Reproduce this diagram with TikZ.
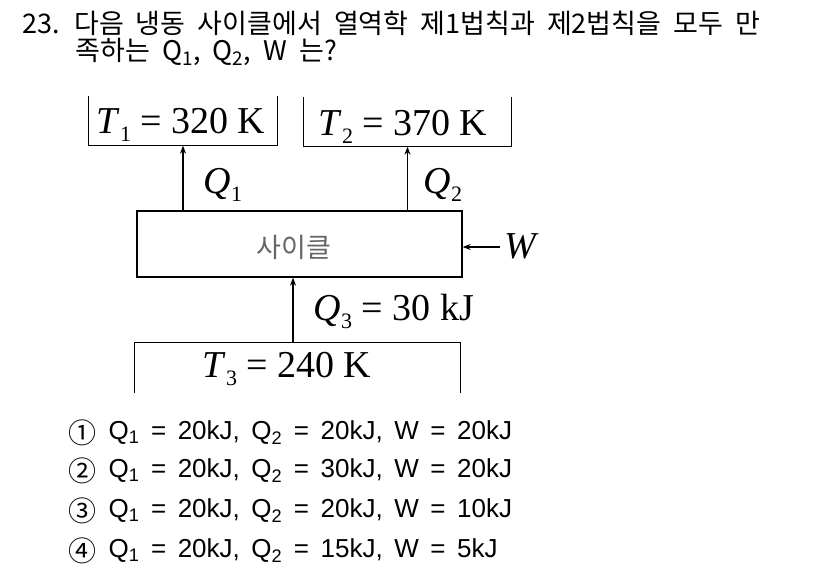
\documentclass[tikz,border=0pt]{standalone}
\usepackage{fontspec}
\setmainfont{Liberation Serif}
\newfontfamily\cjk[WordSpace=2]{Noto Sans CJK KR}
\newfontfamily\optfont[WordSpace=1.6]{Liberation Sans}
\usetikzlibrary{arrows.meta}
\newcommand\lsub[1]{\raisebox{-8pt}{\fontsize{22}{22}\selectfont #1}}
\tikzset{
  bath/.style={minimum height=48pt},
  flow/.style={-{Stealth[length=8pt,width=6pt]}},
  lbl/.style={anchor=base west,font=\fontsize{38}{44}\selectfont}
}
\begin{document}
\begin{tikzpicture}[x=1pt,y=-1pt,line width=1.3pt,every node/.style={inner sep=0pt}]
\useasboundingbox (0,0) rectangle (826,571);
% question
\node[anchor=west,font=\cjk\fontsize{27}{30}\selectfont] (ques1) at (22,23) {23. 다음 냉동 사이클에서 열역학 제1법칙과 제2법칙을 모두 만};
\node[anchor=west,font=\cjk\fontsize{27}{30}\selectfont] (ques2) at (75,52) {족하는 Q\textsubscript{1}, Q\textsubscript{2}, W 는?};
% reservoirs and cycle
\node[bath,minimum width=188pt] (hot1) at (183,121) {};
\node[bath,minimum width=207pt] (hot2) at (407.5,122) {};
\node[bath,minimum width=325pt,minimum height=49pt] (cold) at (297.5,367.5) {};
\node[draw,minimum width=325pt,minimum height=66pt] (cycle) at (299.5,244) {};
\draw (hot1.north west) -- (hot1.south west) -- (hot1.south east) -- (hot1.north east);
\draw (hot2.north west) -- (hot2.south west) -- (hot2.south east) -- (hot2.north east);
\draw (cold.south west) -- (cold.north west) -- (cold.north east) -- (cold.south east);
\node[lbl] (t1) at (96,133) {\textit{T}\lsub{1} = 320 K};
\node[lbl] (t2) at (318,135) {\textit{T}\lsub{2} = 370 K};
\node[lbl] (t3) at (202,377) {\textit{T}\lsub{3} = 240 K};
\node[font=\cjk\fontsize{27}{30}\selectfont,text=black!60] (cyctxt) at (294,247) {사이클};
% heat and work
\coordinate (q3) at (293,343);
\coordinate (wsrc) at (500,247);
\draw[flow] (hot1.south |- cycle.north) -- (hot1.south);
\draw[flow] (hot2.south |- cycle.north) -- (hot2.south);
\draw[flow] (q3) -- (q3 |- cycle.south);
\draw[flow] (wsrc) -- (wsrc -| cycle.east);
\node[lbl] (q1) at (203,193) {\textit{Q}\lsub{1}};
\node[lbl] (q2) at (423,193) {\textit{Q}\lsub{2}};
\node[lbl] (q3lbl) at (313,320) {\textit{Q}\lsub{3} = 30 kJ};
\node[lbl] (w) at (504,258) {\textit{W}};
% answers
\foreach \cnum/\i/\y/\qtwo/\wv in {①/1/433/20/20,②/2/471/30/20,③/3/511/20/10,④/4/551/15/5}{
  \node[font=\cjk\fontsize{28}{30}\selectfont] (c\i) at (82,\y) {\cnum};
  \node[anchor=west,font=\optfont\fontsize{26}{28}\selectfont] (opt\i) at (108,\y)
    {Q\textsubscript{1} = 20kJ, Q\textsubscript{2} = \qtwo kJ, W = \wv kJ};
}
\end{tikzpicture}
\end{document}
